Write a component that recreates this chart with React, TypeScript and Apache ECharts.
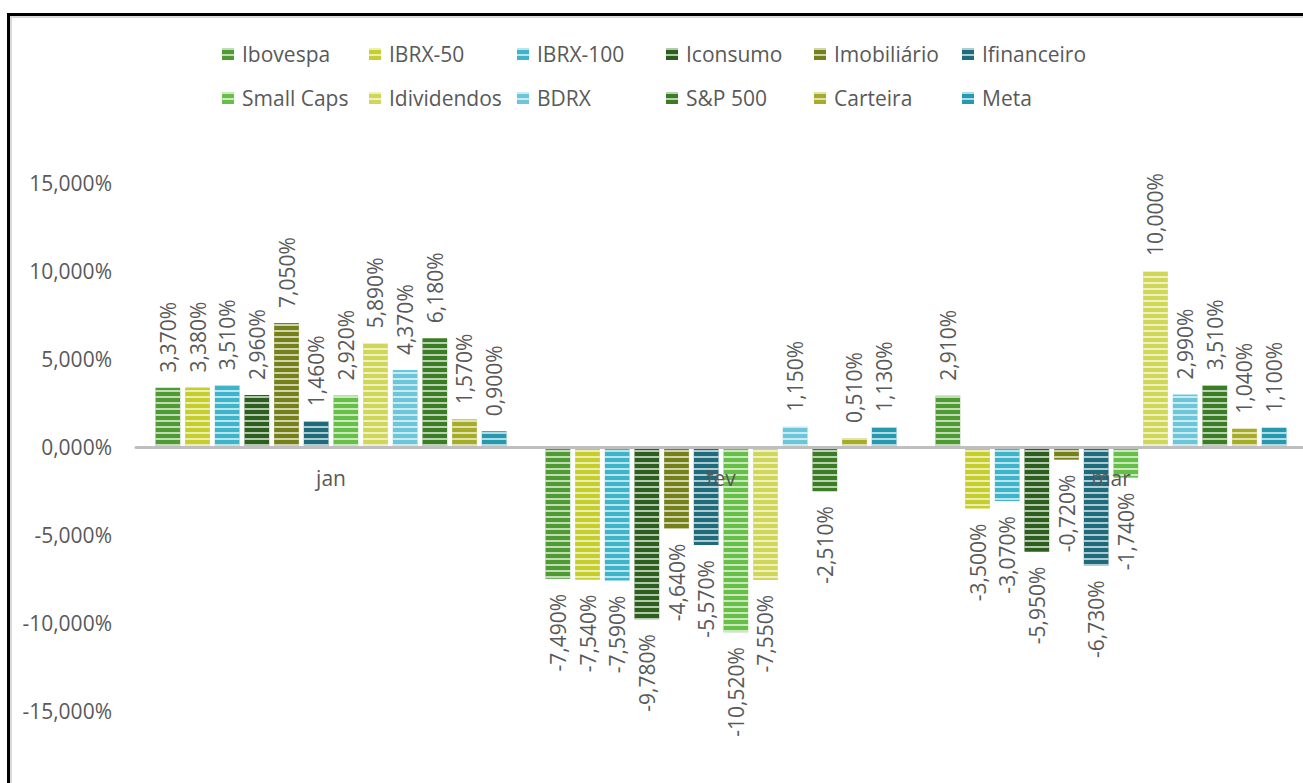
import React, { useEffect, useRef } from 'react';
import * as echarts from 'echarts';

const categories = ['jan', 'fev', 'mar'];
const seriesNames = [
  'Ibovespa', 'IBRX-50', 'IBRX-100', 'Iconsumo', 'Imobiliário', 'Ifinanceiro',
  'Small Caps', 'Idividendos', 'BDRX', 'S&P 500', 'Carteira', 'Meta',
];
const ibovespa = [3.37, -7.49, 2.91];
const ibrx50 = [3.38, -7.54, -3.5];
const ibrx100 = [3.51, -7.59, -3.07];
const iconsumo = [2.96, -9.78, -5.95];
const imobiliario = [7.05, -4.64, -0.72];
const ifinanceiro = [1.46, -5.57, -6.73];
const smallCaps = [2.92, -10.52, -1.74];
const idividendos = [5.89, -7.55, 10.0];
const bdrx = [4.37, 1.15, 2.99];
const sp500 = [6.18, -2.51, 3.51];
const carteira = [1.57, 0.51, 1.04];
const meta = [0.9, 1.13, 1.1];
const seriesValues = [
  ibovespa, ibrx50, ibrx100, iconsumo, imobiliario, ifinanceiro,
  smallCaps, idividendos, bdrx, sp500, carteira, meta,
];
const seriesColors = [
  '#4F9B33', '#C5CE2B', '#3DB4C9', '#2C5F1D', '#768019', '#1D6B7B',
  '#66BF47', '#D0D756', '#6AC6D8', '#3A7D24', '#A6AC26', '#2599B0',
];
const legendColumnsX = [217, 364, 512, 661, 809, 957];

const FONT = '"Open Sans", "Noto Sans", sans-serif';
const TEXT_COLOR = '#595959';

const Y_MIN = -15;
const Y_MAX = 15;
const GRID_TOP = 183;
const GRID_HEIGHT = 528;
const ZERO_FROM_BOTTOM = (GRID_HEIGHT * (0 - Y_MIN)) / (Y_MAX - Y_MIN);

const fmt = (v: number) => v.toFixed(3).replace('.', ',') + '%';

export default function App() {
  const ref = useRef<HTMLDivElement>(null);

  useEffect(() => {
    if (!ref.current) return;
    const chart = echarts.init(ref.current, undefined, { renderer: 'svg' });

    const series = seriesNames.map((name, i) => ({
      name,
      type: 'bar',
      barCategoryGap: '10%',
      barGap: '20%',
      itemStyle: {
        color: seriesColors[i],
        decal: {
          symbol: 'rect',
          symbolSize: 1,
          color: 'rgba(255,255,255,0.65)',
          dashArrayX: [20, 0],
          dashArrayY: [2, 4],
          rotation: 0,
        },
      },
      label: {
        show: true,
        position: 'outside',
        rotate: 90,
        distance: 15,
        fontFamily: FONT,
        fontSize: 21,
        color: TEXT_COLOR,
        verticalAlign: 'middle',
        formatter: (p: any) => fmt(p.value),
      },
      data: seriesValues[i].map((v) => ({
        value: v,
        label: { align: v >= 0 ? 'left' : 'right' },
      })),
    }));

    const legends = legendColumnsX.map((x, c) => ({
      orient: 'vertical',
      left: x,
      top: 34,
      itemWidth: 12,
      itemHeight: 12,
      itemGap: 14,
      icon: 'rect',
      textStyle: {
        fontFamily: FONT,
        fontSize: 21,
        color: TEXT_COLOR,
        lineHeight: 30,
        padding: [0, 0, 0, 3],
      },
      data: [seriesNames[c], seriesNames[c + 6]],
    }));

    chart.setOption({
      animation: false,
      legend: legends,
      grid: {
        left: 136,
        top: GRID_TOP,
        width: 1170,
        height: GRID_HEIGHT,
        containLabel: false,
        outerBoundsMode: 'none',
      },
      xAxis: {
        type: 'category',
        data: categories,
        offset: -ZERO_FROM_BOTTOM,
        z: 5,
        axisLine: { onZero: false, lineStyle: { color: '#BFBFBF', width: 3 } },
        axisTick: { show: false },
        axisLabel: {
          fontFamily: FONT,
          fontSize: 21,
          lineHeight: 22,
          color: TEXT_COLOR,
          margin: 20,
        },
        splitLine: { show: false },
      },
      yAxis: {
        type: 'value',
        min: Y_MIN,
        max: Y_MAX,
        interval: 5,
        axisLine: { show: false },
        axisTick: { show: false },
        splitLine: { show: false },
        axisLabel: {
          fontFamily: FONT,
          fontSize: 21,
          color: TEXT_COLOR,
          margin: 24,
          formatter: (v: number) => fmt(v),
        },
      },
      series,
    });

    return () => chart.dispose();
  }, []);

  return (
    <div
      style={{
        position: 'fixed',
        left: 0,
        top: 0,
        width: 1303,
        height: 783,
        overflow: 'hidden',
        background: '#fff',
      }}
    >
      <div
        style={{
          position: 'absolute',
          left: 7,
          top: 13,
          width: 1400,
          height: 900,
          borderLeft: '3px solid #000',
          borderTop: '3px solid #000',
          boxShadow: 'inset 2px 2px 0 #d9d9d9',
        }}
      />
      <div
        ref={ref}
        style={{ position: 'absolute', left: 0, top: 0, width: 1320, height: 830 }}
      />
    </div>
  );
}
